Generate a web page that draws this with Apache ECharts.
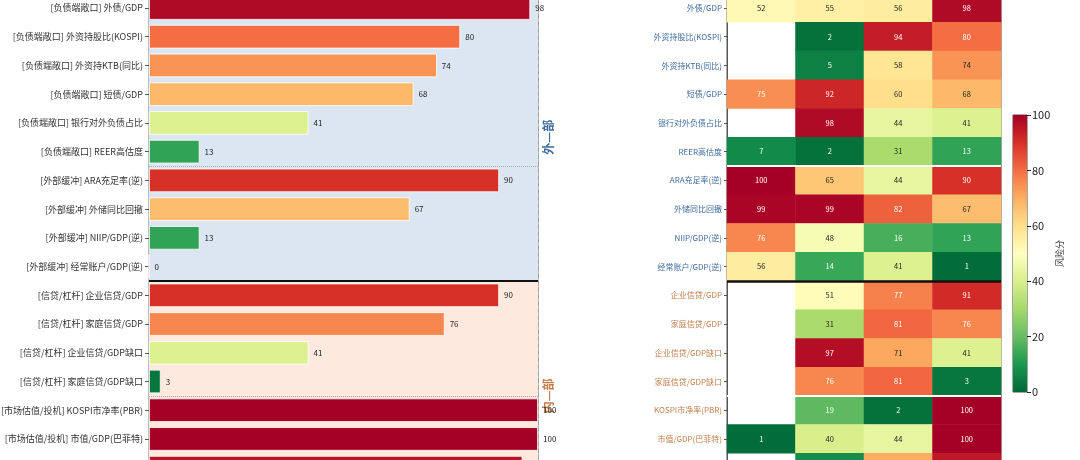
<!DOCTYPE html>
<html>
<head>
<meta charset="utf-8">
<script src="https://cdn.jsdelivr.net/npm/echarts@6/dist/echarts.min.js"></script>
<style>html,body{margin:0;padding:0;background:#fff}#c{width:1080px;height:460px}</style>
</head>
<body>
<div id="c"></div>
<script>
// ---- data ----
const groups = ['负债端敞口','负债端敞口','负债端敞口','负债端敞口','负债端敞口','负债端敞口',
  '外部缓冲','外部缓冲','外部缓冲','外部缓冲',
  '信贷/杠杆','信贷/杠杆','信贷/杠杆','信贷/杠杆',
  '市场估值/投机','市场估值/投机','市场估值/投机'];
const names = ['外债/GDP','外资持股比(KOSPI)','外资持KTB(同比)','短债/GDP','银行对外负债占比','REER高估度',
  'ARA充足率(逆)','外储同比回撤','NIIP/GDP(逆)','经常账户/GDP(逆)',
  '企业信贷/GDP','家庭信贷/GDP','企业信贷/GDP缺口','家庭信贷/GDP缺口',
  'KOSPI市净率(PBR)','市值/GDP(巴菲特)',''];
const barValues = [98, 80, 74, 68, 41, 13, 90, 67, 13, 0, 90, 76, 41, 3, 100, 100, 96];
const heatCols = ['时期1','时期2','时期3','当前'];
const heatRows = [
  [52, 55, 56, 98],
  [null, 2, 94, 80],
  [null, 5, 58, 74],
  [75, 92, 60, 68],
  [null, 98, 44, 41],
  [7, 2, 31, 13],
  [100, 65, 44, 90],
  [99, 99, 82, 67],
  [76, 48, 16, 13],
  [56, 14, 41, 1],
  [null, 51, 77, 91],
  [null, 31, 81, 76],
  [null, 97, 71, 41],
  [null, 76, 81, 3],
  [null, 19, 2, 100],
  [1, 40, 44, 100],
  [null, 8, 70, 95]
];
const colorbarTicks = [0, 20, 40, 60, 80, 100];
const sectionLabels = ['外—部', '内—部'];
// ---- styles ----
const cmap = ['#006837','#1a9850','#66bd63','#a6d96a','#d9ef8b','#ffffbf','#fee08b','#fdae61','#f46d43','#d73027','#a50026'];
const blueTxt = '#3f6c9f', orangeTxt = '#c47d4b';
const font = "'Noto Sans CJK SC','Noto Sans',sans-serif";

const barLabels = names.map((n, i) => n ? `[${groups[i]}] ${n}` : '');
const barData = barValues.map((v, i) => [v, i]);
const heatData = [];
heatRows.forEach((row, r) => row.forEach((v, c) => {
  if (v !== null) heatData.push({ value: [c, r, v], label: { color: (v >= 75 || v < 25) ? '#fff' : '#222' } });
}));

const rowPitch = 28.73, nRows = 18;
const gTop = 8 - rowPitch / 2, gH = rowPitch * nRows;

const sectionLabel = (txt, color) => ({ show: true, position: 'right', distance: 10, rotate: 90, align: 'center', verticalAlign: 'middle',
  formatter: txt, color: color, fontSize: 12, fontWeight: 'bold' });

const chart = echarts.init(document.getElementById('c'));
chart.setOption({
  animation: false,
  textStyle: { fontFamily: font },
  grid: [
    { left: 149, width: 389, top: gTop, height: gH, outerBoundsMode: 'none', containLabel: false, show: true, borderColor: '#777', borderWidth: 1, backgroundColor: 'transparent' },
    { left: 727, width: 274, top: gTop, height: gH, outerBoundsMode: 'none', containLabel: false, show: true, borderColor: '#555', borderWidth: 1, backgroundColor: 'transparent' },
    { left: 1013, width: 14, top: 115, height: 277, outerBoundsMode: 'none', containLabel: false, show: true, borderColor: '#222', borderWidth: 0.8, backgroundColor: 'transparent' }
  ],
  xAxis: [
    { type: 'value', gridIndex: 0, min: 0, max: 100, interval: 50, axisLabel: { show: false }, axisLine: { show: false }, axisTick: { show: false },
      splitLine: { show: true, lineStyle: { type: [4, 3], color: '#999', width: 0.8 } } },
    { type: 'category', gridIndex: 1, data: heatCols, axisLabel: { show: false }, axisLine: { show: false }, axisTick: { show: false } },
    { type: 'category', gridIndex: 2, data: ['cb'], show: false }
  ],
  yAxis: [
    { type: 'category', gridIndex: 0, data: barLabels, inverse: true, max: 17,
      axisLine: { show: true, lineStyle: { color: '#555' } }, axisTick: { show: true, length: 4, alignWithLabel: true, lineStyle: { color: '#555' } },
      axisLabel: { fontSize: 9, color: '#333', margin: 6, interval: 0 } },
    { type: 'value', gridIndex: 0, min: -0.5, max: 17.5, inverse: true, show: false },
    { type: 'category', gridIndex: 1, data: names, inverse: true, max: 17,
      axisLine: { show: true, lineStyle: { color: '#555' } }, axisTick: { show: true, length: 3, alignWithLabel: true, lineStyle: { color: '#555' } },
      axisLabel: { fontSize: 8, margin: 5, interval: 0, color: (v, i) => (i <= 9 ? blueTxt : orangeTxt) } },
    { type: 'value', gridIndex: 1, min: -0.5, max: 17.5, inverse: true, show: false },
    { type: 'value', gridIndex: 2, min: 0, max: 100, interval: 20, position: 'right',
      axisLine: { show: false }, axisTick: { show: true, length: 4, lineStyle: { color: '#222' } },
      axisLabel: { fontSize: 11, color: '#222', margin: 5, formatter: v => colorbarTicks.includes(v) ? String(v) : '' },
      splitLine: { show: false },
      name: '风险分', nameLocation: 'middle', nameRotate: 90, nameGap: 28, nameTextStyle: { fontSize: 9, color: '#333' } }
  ],
  visualMap: [
    { type: 'continuous', show: false, seriesIndex: 2, dimension: 2, min: 0, max: 100, inRange: { color: cmap } },
    { type: 'continuous', show: false, seriesIndex: 1, dimension: 0, min: 0, max: 100, inRange: { color: cmap } }
  ],
  series: [
    { type: 'line', xAxisIndex: 0, yAxisIndex: 1, data: [], z: 1, silent: true,
      markArea: { silent: true, data: [
        [{ yAxis: -0.5, itemStyle: { color: '#dbe6f1' }, label: sectionLabel(sectionLabels[0], blueTxt) }, { yAxis: 9.5 }],
        [{ yAxis: 9.5, itemStyle: { color: '#fde9dd' }, label: sectionLabel(sectionLabels[1], orangeTxt) }, { yAxis: 17.5 }]
      ] },
      markLine: { silent: true, symbol: 'none', label: { show: false }, data: [
        { yAxis: 5.5, lineStyle: { color: '#aaa', type: 'dotted', width: 1 } },
        { yAxis: 13.5, lineStyle: { color: '#aaa', type: 'dotted', width: 1 } },
        { yAxis: 9.5, lineStyle: { color: '#111', type: 'solid', width: 2 } }
      ] } },
    { type: 'bar', xAxisIndex: 0, yAxisIndex: 0, data: barData, encode: { x: 0, y: 1 }, barWidth: '82%', z: 2,
      itemStyle: { borderColor: '#fff', borderWidth: 0.8 },
      label: { show: true, position: 'right', distance: 5, fontSize: 8, color: '#222', formatter: p => String(p.value[0]) } },
    { type: 'heatmap', xAxisIndex: 1, yAxisIndex: 2, data: heatData, z: 2,
      label: { show: true, fontSize: 7.5, formatter: p => String(p.value[2]) } },
    { type: 'line', xAxisIndex: 1, yAxisIndex: 3, data: [], z: 5, silent: true,
      markLine: { silent: true, symbol: 'none', label: { show: false }, data: [
        { yAxis: 5.5, lineStyle: { color: '#fff', type: 'solid', width: 2 } },
        { yAxis: 13.5, lineStyle: { color: '#fff', type: 'solid', width: 2 } },
        { yAxis: 9.5, lineStyle: { color: '#111', type: 'solid', width: 2.5 } }
      ] } },
    { type: 'bar', xAxisIndex: 2, yAxisIndex: 4, data: [100], barWidth: '100%', silent: true,
      itemStyle: { color: new echarts.graphic.LinearGradient(0, 1, 0, 0, cmap.map((c, i) => ({ offset: i / (cmap.length - 1), color: c }))) } }
  ]
});
</script>
</body>
</html>
